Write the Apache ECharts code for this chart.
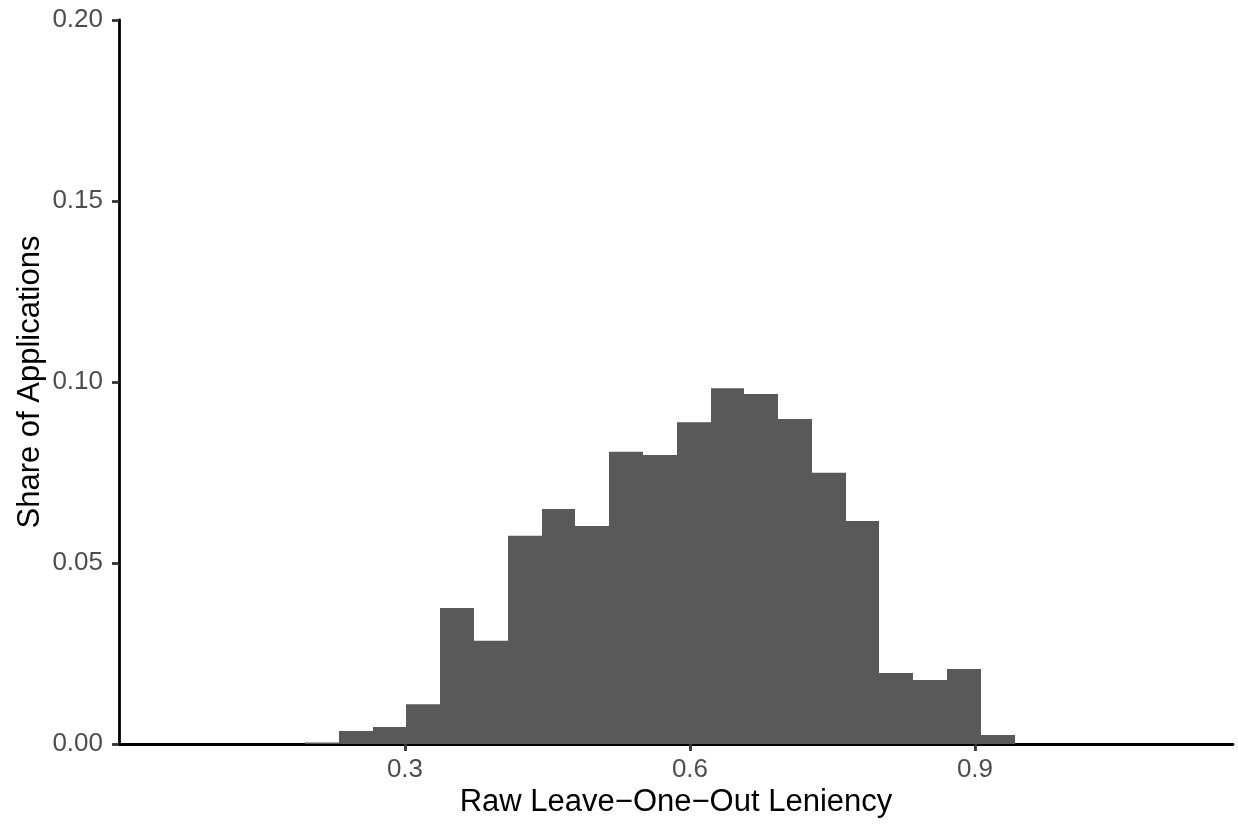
<!DOCTYPE html>
<html>
<head>
<meta charset="utf-8">
<script src="https://cdn.jsdelivr.net/npm/echarts@6/dist/echarts.min.js"></script>
<style>
html,body{margin:0;padding:0;background:#fff;}
#chart{width:1238px;height:827px;}
</style>
</head>
<body>
<div id="chart"></div>
<script>
// Histogram bin edges (left edge of each bin, plus final right edge)
const binEdges = [0.195, 0.2305, 0.266, 0.3016, 0.3372, 0.3727, 0.4083, 0.4439, 0.4794, 0.515, 0.5505,
                  0.5861, 0.6217, 0.6572, 0.6928, 0.7283, 0.7639, 0.7995, 0.835, 0.8706, 0.9061, 0.9417];
// Share of applications in each bin
const shares = [0.0004, 0.0036, 0.0047, 0.0110, 0.0376, 0.0285, 0.0575, 0.0649, 0.0602, 0.0807, 0.0798,
                0.0889, 0.0983, 0.0967, 0.0898, 0.0749, 0.0616, 0.0196, 0.0177, 0.0207, 0.0025];
const xTicks = [0.3, 0.6, 0.9];
const yTicks = [0, 0.05, 0.10, 0.15, 0.20];
const xTitle = 'Raw Leave\u2212One\u2212Out Leniency';
const yTitle = 'Share of Applications';

const data = shares.map((s, i) => [binEdges[i], binEdges[i + 1], s]);

const chart = echarts.init(document.getElementById('chart'), null, {renderer: 'canvas'});
const font = 'Liberation Sans, Arial, Helvetica, sans-serif';
chart.setOption({
  animation: false,
  backgroundColor: '#ffffff',
  grid: {left: 119, right: 5, top: 20, bottom: 83, containLabel: false},
  xAxis: {
    type: 'value',
    min: -0.001,
    max: 1.1716,
    name: xTitle,
    nameLocation: 'middle',
    nameGap: 43,
    nameMoveOverlap: false,
    nameTextStyle: {fontFamily: font, fontSize: 31, color: '#000000'},
    axisLine: {show: true, onZero: false, lineStyle: {color: '#000000', width: 2.8}},
    axisTick: {show: true, length: 7, customValues: xTicks, lineStyle: {color: '#333333', width: 2.8}},
    axisLabel: {customValues: xTicks, margin: 13, fontFamily: font, fontSize: 26, color: '#4D4D4D',
                formatter: v => v.toFixed(1)},
    splitLine: {show: false}
  },
  yAxis: {
    type: 'value',
    min: 0,
    max: 0.2,
    interval: 0.05,
    name: yTitle,
    nameLocation: 'middle',
    nameGap: 73,
    nameMoveOverlap: false,
    nameTextStyle: {fontFamily: font, fontSize: 31, color: '#000000'},
    axisLine: {show: true, onZero: false, lineStyle: {color: '#000000', width: 2.8}},
    axisTick: {show: true, length: 7, lineStyle: {color: '#333333', width: 2.8}},
    axisLabel: {margin: 16, fontFamily: font, fontSize: 26, color: '#4D4D4D',
                formatter: v => v.toFixed(2)},
    splitLine: {show: false}
  },
  series: [{
    type: 'custom',
    data: data,
    encode: {x: [0, 1], y: 2},
    renderItem: function (params, api) {
      const p0 = api.coord([api.value(0), api.value(2)]);
      const p1 = api.coord([api.value(1), 0]);
      const x0 = Math.round(p0[0]), x1 = Math.round(p1[0]);
      return {
        type: 'rect',
        shape: {x: x0, y: p0[1], width: x1 - x0, height: p1[1] - p0[1]},
        style: {fill: '#595959'}
      };
    },
    z: 1
  }]
});
</script>
</body>
</html>
